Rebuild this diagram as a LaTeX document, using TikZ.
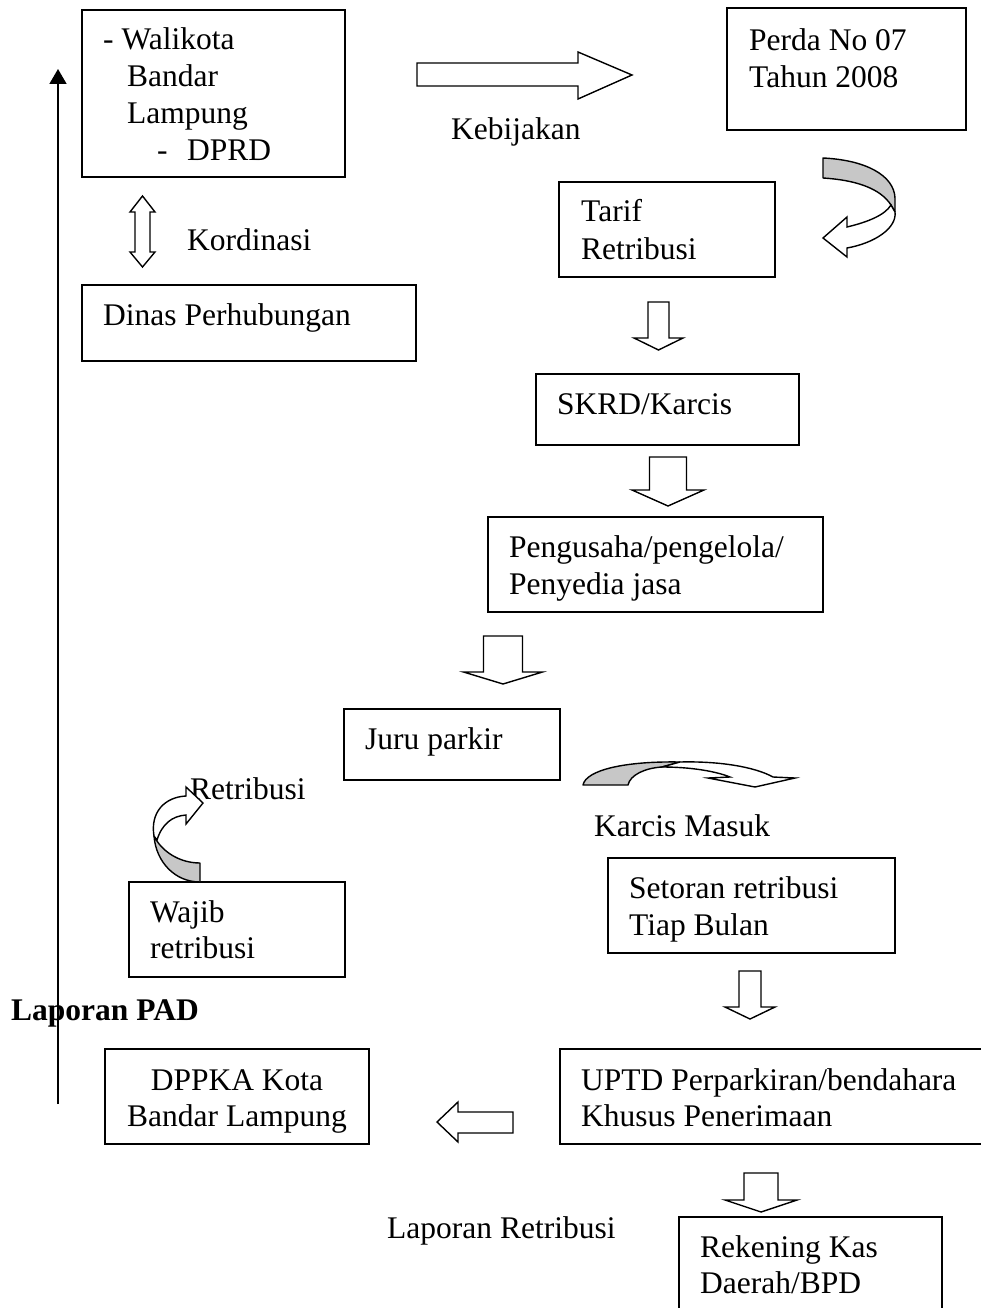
\documentclass[tikz,border=0pt]{standalone}
\usepackage{fontspec}
\setmainfont{Liberation Serif}
\usetikzlibrary{arrows.meta,fit}
\tikzset{
  box/.style={draw, line width=1.6pt, inner sep=0pt},
  txt/.style={anchor=base west, inner sep=0pt, font=\fontsize{31.5}{37}\selectfont},
  blk/.style={draw, line width=1.4pt, fill=white, line join=miter},
  gry/.style={draw, line width=1.4pt, fill=black!22, line join=round},
  wht/.style={draw, line width=1.4pt, fill=white, line join=miter},
}
\newcommand\dnarrow[6]{%
  \draw[blk] ({#1-#5},#2) -- ({#1+#5},#2) -- ({#1+#5},#3) -- ({#1+#6},#3)
    -- (#1,#4) -- ({#1-#6},#3) -- ({#1-#5},#3) -- cycle;}
\begin{document}
\begin{tikzpicture}[x=1pt,y=-1pt]
\useasboundingbox (0,0) rectangle (981,1308);
\clip (0,0) rectangle (981,1308);

% boxes
\node[box, fit={(82,10) (345,177)}] (walikota) {};
\node[box, fit={(727,8) (966,130)}] (perda) {};
\node[box, fit={(82,285) (416,361)}] (dinas) {};
\node[box, fit={(559,182) (775,277)}] (tarif) {};
\node[box, fit={(536,374) (799,445)}] (skrd) {};
\node[box, fit={(488,517) (823,612)}] (pengusaha) {};
\node[box, fit={(344,709) (560,780)}] (juru) {};
\node[box, fit={(608,858) (895,953)}] (setoran) {};
\node[box, fit={(129,882) (345,977)}] (wajib) {};
\node[box, fit={(105,1049) (369,1144)}] (dppka) {};
\node[box, fit={(560,1049) (1000,1144)}] (uptd) {};
\node[box, fit={(679,1217) (942,1330)}] (rekening) {};

% texts
\node[txt] (t1a) at (103,50) {- Walikota};
\node[txt] (t1b) at (127,87) {Bandar};
\node[txt] (t1c) at (127,124) {Lampung};
\node[txt] (t1d) at (157,161) {-};
\node[txt] (t1e) at (187,161) {DPRD};
\node[txt] (t2a) at (749,51) {Perda No 07};
\node[txt] (t2b) at (749,88) {Tahun 2008};
\node[txt] (keb) at (451,140) {Kebijakan};
\node[txt] (kor) at (187,250) {Kordinasi};
\node[txt] (t3) at (103,325) {Dinas Perhubungan};
\node[txt] (t4a) at (581,222) {Tarif};
\node[txt] (t4b) at (581,259) {Retribusi};
\node[txt] (t5) at (557,414) {SKRD/Karcis};
\node[txt] (t6a) at (509,557) {Pengusaha/pengelola/};
\node[txt] (t6b) at (509,594) {Penyedia jasa};
\node[txt] (t7) at (365,749) {Juru parkir};
\node[txt] (ret) at (190,799) {Retribusi};
\node[txt] (km) at (594,836) {Karcis Masuk};
\node[txt] (t8a) at (629,898) {Setoran retribusi};
\node[txt] (t8b) at (629,935) {Tiap Bulan};
\node[txt] (t9a) at (150,922) {Wajib};
\node[txt] (t9b) at (150,958) {retribusi};
\node[txt, font=\fontsize{31.5}{37}\selectfont\bfseries] (pad) at (11,1020) {Laporan PAD};
\node[txt, anchor=base] (t10a) at (237,1090) {DPPKA Kota};
\node[txt, anchor=base] (t10b) at (237,1126) {Bandar Lampung};
\node[txt] (t11a) at (581,1090) {UPTD Perparkiran/bendahara};
\node[txt] (t11b) at (581,1126) {Khusus Penerimaan};
\node[txt] (lr) at (387,1238) {Laporan Retribusi};
\node[txt] (t12a) at (700,1257) {Rekening Kas};
\node[txt] (t12b) at (700,1293) {Daerah/BPD};

% Laporan PAD vertical arrow
\coordinate (padbot) at (58,1104);
\coordinate (padtop) at (58,69);
\draw[line width=1.6pt, -{Triangle[length=15pt,width=17pt]}] (padbot) -- (padtop);

% Kebijakan right arrow
\draw[blk] (417,63) -- (578,63) -- (578,52) -- (632,75) -- (578,99) -- (578,86) -- (417,86) -- cycle;

% Kordinasi double arrow
\draw[blk] (135,212) -- (130,212) -- (142.5,196) -- (155,212) -- (150,212)
  -- (150,252) -- (155,252) -- (142.5,267) -- (130,252) -- (135,252) -- cycle;

% down arrows
\dnarrow{658.5}{302}{338}{350}{10.5}{24.5}
\dnarrow{668}{457}{490}{506}{18.5}{36}
\dnarrow{503}{636}{672}{684}{19.5}{39.5}
\dnarrow{750}{971}{1007}{1019}{11}{25}
\dnarrow{761}{1173}{1200}{1212}{17}{36}

% left arrow
\draw[blk] (513,1112) -- (458,1112) -- (458,1102) -- (437,1122) -- (458,1142)
  -- (458,1133) -- (513,1133) -- cycle;

% curved arrow near Tarif
\draw[gry] (823,158) .. controls (865,160) and (894,175) .. (895,198) -- (895,212)
  -- (891,205) .. controls (880,188) and (855,180) .. (823,178) -- cycle;
\draw[wht] (891,205) .. controls (885,215) and (868,222) .. (847,227) -- (847,217)
  -- (823,238) -- (847,257) -- (847,248) .. controls (875,243) and (897,228) .. (895,212) -- cycle;

% curved arrow Karcis Masuk
\draw[gry] (583,785) .. controls (586,770) and (625,761) .. (680,762) -- (662,767)
  .. controls (645,768) and (630,775) .. (628,785) -- cycle;
\draw[wht] (662,767) .. controls (690,767) and (715,771) .. (730,777) -- (708,778)
  -- (755,787) -- (795,778) -- (773,777) .. controls (755,767) and (720,761) .. (680,762) -- cycle;

% curved arrow Retribusi
\draw[gry] (200,882) .. controls (175,882) and (156,862) .. (154,836)
  .. controls (162,852) and (180,863) .. (200,863) -- cycle;
\draw[wht] (154,836) .. controls (150,812) and (165,797) .. (186,796) -- (186,787)
  -- (203,803) -- (186,824) -- (186,815) .. controls (172,816) and (162,824) .. (157,840) -- cycle;
\end{tikzpicture}
\end{document}
